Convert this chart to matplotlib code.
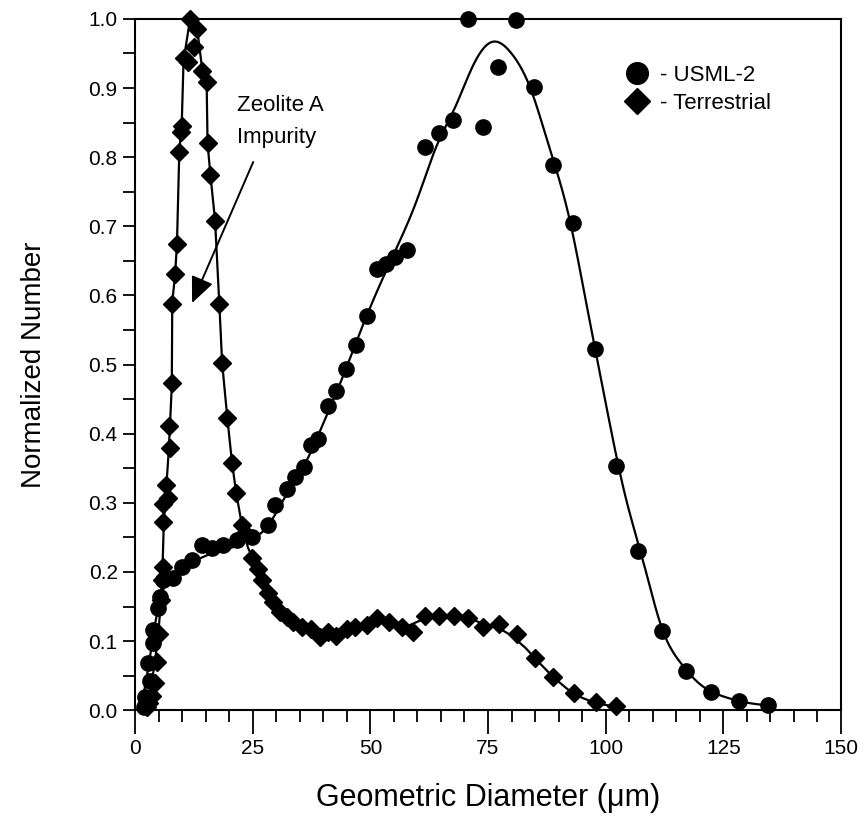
import numpy as np
import matplotlib
matplotlib.use("Agg")
import matplotlib.pyplot as plt
from matplotlib.lines import Line2D
from matplotlib.ticker import MultipleLocator

plt.rcParams['font.family'] = ['Liberation Sans', 'DejaVu Sans']

# ---- measured size distributions ----
usml_d = [1.8, 2.1, 3.2, 2.8, 3.8, 3.8, 4.9, 5.3, 5.9, 8.1, 10.0, 12.1, 14.2, 16.4,
          18.7, 21.7, 24.9, 28.3, 29.7, 32.2, 34.0, 35.8, 37.3, 38.9, 40.9, 42.7,
          44.8, 46.9, 49.2, 51.5, 53.3, 55.3, 57.8, 61.6, 64.6, 67.5, 70.8, 73.9,
          77.2, 80.9, 84.8, 88.9, 93.1, 97.7, 102.2, 106.9, 112.0, 117.1, 122.5,
          128.3, 134.5]
usml_n = [0.005, 0.019, 0.043, 0.069, 0.097, 0.116, 0.148, 0.164, 0.188, 0.192,
          0.207, 0.217, 0.239, 0.234, 0.239, 0.246, 0.250, 0.268, 0.297, 0.320,
          0.337, 0.352, 0.384, 0.393, 0.440, 0.462, 0.493, 0.528, 0.571, 0.638,
          0.645, 0.655, 0.666, 0.815, 0.835, 0.854, 1.000, 0.843, 0.931, 0.998,
          0.902, 0.788, 0.705, 0.522, 0.353, 0.231, 0.115, 0.057, 0.027, 0.014,
          0.007]

terr_d = [2.5, 3.0, 3.5, 4.2, 4.6, 5.0, 5.5, 5.7, 5.9, 6.0, 6.0, 6.6, 6.9, 7.4,
          7.3, 7.8, 7.9, 8.5, 8.9, 9.4, 9.7, 9.9, 10.3, 11.3, 11.7, 12.5, 13.2,
          14.3, 15.2, 15.4, 16.0, 17.0, 17.9, 18.5, 19.6, 20.6, 21.5, 22.7, 23.4,
          24.8, 26.2, 26.9, 28.3, 29.4, 30.8, 32.2, 33.6, 35.4, 37.3, 39.2, 41.1,
          42.8, 45.0, 46.7, 49.2, 51.5, 54.0, 56.7, 59.1, 61.6, 64.6, 67.8, 70.8,
          73.9, 77.4, 81.2, 85.0, 88.9, 93.3, 97.9, 102.3]
terr_n = [0.005, 0.01, 0.02, 0.04, 0.07, 0.11, 0.16, 0.188, 0.207, 0.273, 0.299,
          0.326, 0.307, 0.379, 0.411, 0.474, 0.587, 0.631, 0.675, 0.808, 0.836,
          0.845, 0.943, 0.938, 1.000, 0.960, 0.985, 0.924, 0.909, 0.820, 0.774,
          0.708, 0.588, 0.502, 0.423, 0.358, 0.314, 0.268, 0.256, 0.220, 0.205,
          0.188, 0.169, 0.157, 0.142, 0.135, 0.128, 0.120, 0.118, 0.106, 0.113,
          0.108, 0.118, 0.121, 0.123, 0.133, 0.128, 0.121, 0.113, 0.137, 0.137,
          0.137, 0.133, 0.121, 0.125, 0.111, 0.075, 0.048, 0.025, 0.012, 0.006]

# ---- smoothed trend curves (knots) ----
usml_fit_d = [1.2, 2, 3, 4, 5, 6, 8, 10, 13, 16, 20, 24, 28, 32, 36, 40, 44, 48,
              52, 56, 60, 64, 68, 72, 76, 80, 84, 88, 92, 96, 100, 104, 108, 112,
              116, 120, 125, 130, 134.5]
usml_fit_n = [0.0, 0.03, 0.07, 0.115, 0.15, 0.175, 0.195, 0.205, 0.217, 0.226,
              0.234, 0.245, 0.265, 0.31, 0.355, 0.415, 0.48, 0.55, 0.615, 0.675,
              0.74, 0.815, 0.872, 0.935, 0.967, 0.95, 0.9, 0.815, 0.72, 0.585,
              0.445, 0.315, 0.215, 0.118, 0.068, 0.038, 0.02, 0.011, 0.007]

terr_fit_d = [1.8, 2.5, 3.2, 4.0, 4.8, 5.4, 5.8, 6.1, 6.6, 7.1, 7.4, 7.8, 7.9, 8.5,
              8.9, 9.4, 9.9, 10.3, 11.7, 13.2, 14.3, 15.2, 15.4, 16.0, 17.0, 17.9,
              18.5, 19.6, 20.6, 21.5, 22.7, 24.0, 25.5, 27, 28.5, 30, 32, 34, 36,
              38, 40, 42, 44, 46, 48, 50, 52, 54, 56, 58, 60, 62, 65, 68, 71, 74,
              77, 80, 83, 86, 89, 92, 95, 98, 102.3]
terr_fit_n = [0.0, 0.01, 0.03, 0.06, 0.1, 0.15, 0.2, 0.27, 0.32, 0.37, 0.41, 0.47,
              0.59, 0.63, 0.675, 0.81, 0.845, 0.94, 1.0, 0.985, 0.925, 0.91, 0.82,
              0.775, 0.708, 0.588, 0.502, 0.423, 0.358, 0.314, 0.268, 0.235, 0.213,
              0.19, 0.168, 0.152, 0.136, 0.126, 0.12, 0.113, 0.11, 0.111, 0.114,
              0.118, 0.122, 0.126, 0.128, 0.126, 0.123, 0.122, 0.128, 0.134, 0.137,
              0.137, 0.133, 0.125, 0.12, 0.108, 0.09, 0.068, 0.047, 0.03, 0.018,
              0.01, 0.005]

x_ticks = [0, 25, 50, 75, 100, 125, 150]
y_ticks = [0.0, 0.1, 0.2, 0.3, 0.4, 0.5, 0.6, 0.7, 0.8, 0.9, 1.0]


def natural_spline(xk, yk, n=800):
    """Natural cubic spline through the knots (xk, yk)."""
    x = np.asarray(xk, float)
    y = np.asarray(yk, float)
    m = len(x)
    h = np.diff(x)
    A = np.zeros((m, m))
    b = np.zeros(m)
    A[0, 0] = A[-1, -1] = 1.0
    for i in range(1, m - 1):
        A[i, i - 1] = h[i - 1]
        A[i, i] = 2 * (h[i - 1] + h[i])
        A[i, i + 1] = h[i]
        b[i] = 6 * ((y[i + 1] - y[i]) / h[i] - (y[i] - y[i - 1]) / h[i - 1])
    M = np.linalg.solve(A, b)
    xs = np.linspace(x[0], x[-1], n)
    idx = np.clip(np.searchsorted(x, xs) - 1, 0, m - 2)
    x0, x1 = x[idx], x[idx + 1]
    hh = x1 - x0
    t0, t1 = x1 - xs, xs - x0
    ys = (M[idx] * t0 ** 3 + M[idx + 1] * t1 ** 3) / (6 * hh) \
        + (y[idx] / hh - M[idx] * hh / 6) * t0 \
        + (y[idx + 1] / hh - M[idx + 1] * hh / 6) * t1
    return xs, ys


fig = plt.figure(figsize=(8.66, 8.23), dpi=100)
ax = fig.add_axes([0.156, 0.137, 0.815, 0.840])

sx, sy = natural_spline(usml_fit_d, usml_fit_n)
ax.plot(sx, sy, color='black', lw=1.6, zorder=2)
ax.plot(terr_fit_d, terr_fit_n, color='black', lw=1.6, zorder=2)

ax.plot(usml_d, usml_n, linestyle='none', marker='o', ms=11, color='black',
        zorder=3, clip_on=False)
ax.plot(terr_d, terr_n, linestyle='none', marker='D', ms=9, color='black',
        zorder=3, clip_on=False)

ax.set_xlim(0, 150)
ax.set_ylim(0, 1.0)
ax.set_xticks(x_ticks)
ax.set_xticklabels([str(v) for v in x_ticks])
ax.set_yticks(y_ticks)
ax.set_yticklabels([f"{v:.1f}" for v in y_ticks])
ax.xaxis.set_minor_locator(MultipleLocator(5))
ax.yaxis.set_minor_locator(MultipleLocator(0.05))

ax.tick_params(axis='x', which='major', direction='out', length=17, width=1.3,
               labelsize=15, pad=4)
ax.tick_params(axis='x', which='minor', direction='out', length=8.5, width=1.3)
ax.tick_params(axis='y', which='both', direction='out', length=8.5, width=1.3,
               labelsize=15, pad=4)
for s in ax.spines.values():
    s.set_linewidth(1.5)

ax.set_xlabel('Geometric Diameter (μm)', fontsize=22, labelpad=18)
ax.set_ylabel('Normalized Number', fontsize=20, labelpad=30)

# annotation for the impurity peak
ax.text(21.7, 0.867, 'Zeolite A', fontsize=16, ha='left', va='baseline')
ax.text(21.7, 0.820, 'Impurity', fontsize=16, ha='left', va='baseline')
ax.annotate('', xy=(12.1, 0.589), xytext=(25.1, 0.793),
            arrowprops=dict(arrowstyle='-|>,head_length=1.6,head_width=0.7',
                            color='black', lw=1.4, shrinkA=0, shrinkB=0))

handles = [Line2D([], [], linestyle='none', marker='o', ms=11, color='black'),
           Line2D([], [], linestyle='none', marker='D', ms=9, color='black')]
ax.legend(handles, ['- USML-2', '- Terrestrial'], loc='upper left',
          bbox_to_anchor=(0.692, 0.933), frameon=False, fontsize=16,
          markerscale=1.42, handlelength=1.2, handletextpad=0.45,
          labelspacing=0.3, borderpad=0, borderaxespad=0)

fig.savefig('out.png', dpi=100)
